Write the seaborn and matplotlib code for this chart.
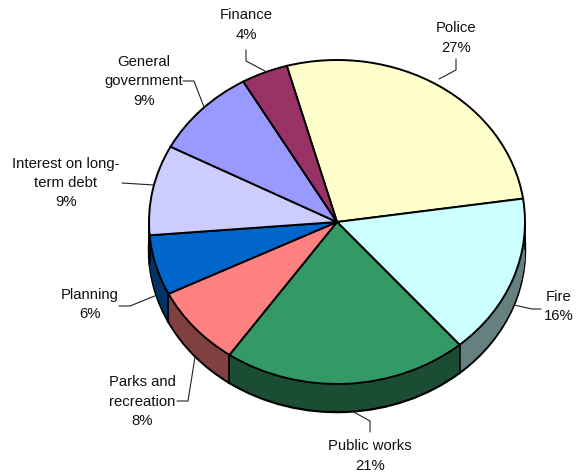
import numpy as np
import matplotlib
matplotlib.use("Agg")
import matplotlib.pyplot as plt
import seaborn as sns

categories = ["Police", "Fire", "Public works", "Parks and\nrecreation", "Planning",
              "Interest on long-\nterm debt", "General\ngovernment", "Finance"]
shares = [27, 16, 21, 8, 6, 9, 9, 4]
top_colors = ["#FFFFCC", "#CCFFFF", "#339966", "#FF8080", "#0066CC",
              "#CCCCFF", "#9999FF", "#993366"]

# Layout in figure pixels, y measured from the top edge
WIDTH, HEIGHT = 581, 472
CX, CY, RX, RY, DEPTH = 337, 222, 188, 162, 28
START_ANGLE = 105.5
label_centers = [(456, 38), (559, 306.5), (370, 456), (142, 401.5), (90, 304.5),
                 (66, 183), (144, 81.5), (246, 25)]
leaders = [[(456, 59), (456, 70), (439, 79)],
           [(541, 309), (532, 309), (514, 305)],
           [(370, 432), (370, 421), (352, 411)],
           [(177, 401), (188, 401), (195, 357)],
           [(119, 306), (130, 306), (157, 295)],
           [(122, 183), (154, 185)],
           [(183, 81), (194, 81), (204, 107)],
           [(246, 50), (246, 61), (265, 71)]]

sns.set_theme(style="white")
plt.rcParams["font.family"] = ["Liberation Sans", "DejaVu Sans"]

# The axes are stretched vertically so a circular pie renders as a tilted ellipse
k = RX / RY
fig = plt.figure(figsize=(WIDTH / 100, HEIGHT / 100), dpi=100)
ax = fig.add_axes([0, 0, 1, 1])


def to_data(x, y):
    return x, (HEIGHT - y) * k


side_colors = [tuple(c * 0.5 for c in matplotlib.colors.to_rgb(col)) for col in top_colors]
center_x, center_y = to_data(CX, CY)

# Rim: a black-edged base, then stacked darker discs rising to the top face
ax.pie(shares, colors=side_colors, startangle=START_ANGLE, counterclock=False, radius=RX,
       center=(center_x, center_y - DEPTH * k),
       wedgeprops=dict(edgecolor="black", linewidth=1.8))
for off in np.arange(DEPTH - 1, 0, -1):
    ax.pie(shares, colors=side_colors, startangle=START_ANGLE, counterclock=False, radius=RX,
           center=(center_x, center_y - off * k),
           wedgeprops=dict(edgecolor="none", linewidth=0))

# Vertical seams on the visible part of the rim, including both silhouette ends
boundaries = START_ANGLE - np.cumsum(shares) * 3.6
seams = [a for a in np.deg2rad(boundaries) if np.sin(a) < 0] + [0.0, np.pi]
for a in seams:
    x = center_x + RX * np.cos(a)
    y = center_y + RX * np.sin(a)
    ax.plot([x, x], [y, y - DEPTH * k], color="black", lw=1.2, solid_capstyle="butt")

# Top face
ax.pie(shares, colors=top_colors, startangle=START_ANGLE, counterclock=False, radius=RX,
       center=(center_x, center_y),
       wedgeprops=dict(edgecolor="black", linewidth=1.4))

# Leader lines and labels
for name, share, (lx, ly), path in zip(categories, shares, label_centers, leaders):
    pts = np.array([to_data(*p) for p in path])
    ax.plot(pts[:, 0], pts[:, 1], color="#222222", lw=0.8)
    tx, ty = to_data(lx, ly)
    ax.text(tx, ty, f"{name}\n{share}%", ha="center", va="center", fontsize=10.7,
            color="#111111", linespacing=1.49, multialignment="center")

ax.set_aspect("auto")
ax.set_xlim(0, WIDTH)
ax.set_ylim(0, HEIGHT * k)
ax.axis("off")
fig.savefig("out.png", dpi=100, facecolor="white")
